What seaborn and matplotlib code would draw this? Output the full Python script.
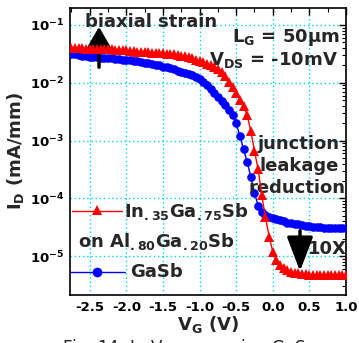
import numpy as np
import pandas as pd
import matplotlib
matplotlib.use("Agg")
import matplotlib.pyplot as plt
import seaborn as sns
from matplotlib.lines import Line2D
from matplotlib.ticker import FixedLocator, FixedFormatter, LogLocator, NullFormatter, MultipleLocator

# ---------------- data ----------------
vg = [-2.75, -2.70, -2.65, -2.60, -2.55, -2.50, -2.45, -2.40, -2.35, -2.30,
      -2.25, -2.20, -2.15, -2.10, -2.05, -2.00, -1.95, -1.90, -1.85, -1.80,
      -1.75, -1.70, -1.65, -1.60, -1.55, -1.50, -1.45, -1.40, -1.35, -1.30,
      -1.25, -1.20, -1.15, -1.10, -1.05, -1.00, -0.95, -0.90, -0.85, -0.80,
      -0.75, -0.70, -0.65, -0.60, -0.55, -0.50, -0.45, -0.40, -0.35, -0.30,
      -0.25, -0.20, -0.15, -0.10, -0.05, 0.00, 0.05, 0.10, 0.15, 0.20,
      0.25, 0.30, 0.35, 0.40, 0.45, 0.50, 0.55, 0.60, 0.65, 0.70,
      0.75, 0.80, 0.85, 0.90, 0.95, 1.00]

# log10 of I_D (mA/mm)
ingasb_log_id = [-1.40, -1.40, -1.40, -1.40, -1.41, -1.41, -1.41, -1.41, -1.41, -1.42,
                 -1.42, -1.42, -1.43, -1.43, -1.44, -1.44, -1.45, -1.45, -1.46, -1.46,
                 -1.47, -1.47, -1.48, -1.48, -1.49, -1.49, -1.50, -1.50, -1.51, -1.52,
                 -1.53, -1.54, -1.56, -1.58, -1.60, -1.62, -1.64, -1.67, -1.70, -1.73,
                 -1.77, -1.82, -1.89, -1.98, -2.07, -2.17, -2.29, -2.41, -2.56, -2.84,
                 -3.18, -3.50, -3.95, -4.33, -4.66, -4.92, -5.07, -5.15, -5.20, -5.24,
                 -5.27, -5.29, -5.30, -5.31, -5.31, -5.32, -5.32, -5.32, -5.32, -5.32,
                 -5.33, -5.33, -5.33, -5.33, -5.33, -5.33]

gasb_log_id = [-1.50, -1.51, -1.52, -1.53, -1.54, -1.55, -1.55, -1.56, -1.57, -1.57,
               -1.58, -1.58, -1.59, -1.59, -1.60, -1.60, -1.61, -1.62, -1.63, -1.64,
               -1.65, -1.66, -1.67, -1.69, -1.70, -1.72, -1.73, -1.75, -1.77, -1.79,
               -1.81, -1.83, -1.85, -1.87, -1.90, -1.93, -1.98, -2.04, -2.10, -2.17,
               -2.24, -2.31, -2.39, -2.47, -2.56, -2.70, -2.92, -3.15, -3.37, -3.63,
               -3.90, -4.13, -4.24, -4.29, -4.32, -4.34, -4.36, -4.38, -4.40, -4.42,
               -4.43, -4.44, -4.45, -4.46, -4.47, -4.48, -4.49, -4.50, -4.50, -4.51,
               -4.51, -4.52, -4.52, -4.52, -4.52, -4.52]

xtick_vals = [-2.5, -2.0, -1.5, -1.0, -0.5, 0.0, 0.5, 1.0]
xtick_labels = ["-2.5", "-2.0", "-1.5", "-1.0", "-0.5", "0.0", "0.5", "1.0"]
ytick_vals = [1e-5, 1e-4, 1e-3, 1e-2, 1e-1]
ytick_labels = [r"$10^{-5}$", r"$10^{-4}$", r"$10^{-3}$", r"$10^{-2}$", r"$10^{-1}$"]

df = pd.DataFrame({
    "VG": vg * 2,
    "ID": list(10.0 ** np.array(ingasb_log_id)) + list(10.0 ** np.array(gasb_log_id)),
    "device": ["InGaSb"] * len(vg) + ["GaSb"] * len(vg),
})

# ---------------- style ----------------
sns.set_theme(style="white")
plt.rcParams["font.family"] = ["DejaVu Sans"]
plt.rcParams["font.weight"] = "bold"
plt.rcParams["mathtext.fontset"] = "custom"
plt.rcParams["mathtext.rm"] = "DejaVu Sans:bold"
plt.rcParams["mathtext.it"] = "DejaVu Sans:bold"
plt.rcParams["mathtext.bf"] = "DejaVu Sans:bold"
plt.rcParams["mathtext.sf"] = "DejaVu Sans:bold"
plt.rcParams["mathtext.default"] = "rm"
plt.rcParams["axes.unicode_minus"] = False

W, H = 359, 343
fig = plt.figure(figsize=(W / 100, H / 100), dpi=100)
ax = fig.add_axes([70 / W, 48 / H, 276 / W, 287 / H])

palette = {"InGaSb": "#ff0000", "GaSb": "#0000ff"}
sub_red = df[df.device == "InGaSb"]
sub_blue = df[df.device == "GaSb"]
sns.lineplot(data=sub_blue, x="VG", y="ID", color=palette["GaSb"], marker="o",
             markersize=6.2, markeredgewidth=0, linewidth=1.0, ax=ax, zorder=3)
sns.lineplot(data=sub_red, x="VG", y="ID", color=palette["InGaSb"], marker="^",
             markersize=6.8, markeredgewidth=0, linewidth=1.0, ax=ax, zorder=4)

ax.set_yscale("log")
ax.set_xlim(-2.77, 1.0)
ax.set_ylim(10 ** -5.672, 10 ** -0.707)

ax.xaxis.set_major_locator(FixedLocator(xtick_vals))
ax.xaxis.set_major_formatter(FixedFormatter(xtick_labels))
ax.xaxis.set_minor_locator(MultipleLocator(0.25))
ax.yaxis.set_major_locator(FixedLocator(ytick_vals))
ax.yaxis.set_major_formatter(FixedFormatter(ytick_labels))
ax.yaxis.set_minor_locator(LogLocator(base=10, subs=np.arange(2, 10), numticks=20))
ax.yaxis.set_minor_formatter(NullFormatter())

ax.tick_params(which="both", direction="in", top=True, right=True, colors="black")
ax.tick_params(which="major", length=5, width=1.0, labelsize=9.5, pad=4)
ax.tick_params(which="minor", length=3, width=0.8)
for lab in ax.get_xticklabels() + ax.get_yticklabels():
    lab.set_fontweight("bold")

for s in ax.spines.values():
    s.set_color("black")
    s.set_linewidth(1.2)

ax.grid(True, which="major", color="#00d8f0", linestyle=(0, (1, 2)), linewidth=1.0)
ax.set_axisbelow(True)

ax.set_xlabel(r"V$_G$ (V)", fontsize=13, fontweight="bold", labelpad=0)
ax.set_ylabel(r"I$_D$ (mA/mm)", fontsize=13, fontweight="bold", labelpad=3)


# ---------------- annotations ----------------
def px(x, y):
    """figure pixel (from top-left) -> axes fraction"""
    return ((x - 70) / 276, (295 - y) / 287)


ax.text(*px(85, 22), "biaxial strain", transform=ax.transAxes, fontsize=13,
        fontweight="bold", va="center", ha="left")
ax.text(*px(340, 38), "L$_G$ = 50μm", transform=ax.transAxes, fontsize=13,
        fontweight="bold", va="center", ha="right")
ax.text(*px(338, 60), "V$_{DS}$ = -10mV", transform=ax.transAxes, fontsize=13,
        fontweight="bold", va="center", ha="right")
ax.text(*px(299, 144), "junction", transform=ax.transAxes,
        fontsize=13, fontweight="bold", va="center", ha="center")
ax.text(*px(299, 166), "leakage", transform=ax.transAxes,
        fontsize=13, fontweight="bold", va="center", ha="center")
ax.text(*px(297, 188), "reduction", transform=ax.transAxes,
        fontsize=13, fontweight="bold", va="center", ha="center")
ax.text(*px(327, 249), "10X", transform=ax.transAxes, fontsize=13,
        fontweight="bold", va="center", ha="center")

ax.annotate("", xy=px(99, 24), xytext=px(99, 70), xycoords="axes fraction",
            textcoords="axes fraction",
            arrowprops=dict(arrowstyle="-|>,head_length=1.3,head_width=0.75",
                            mutation_scale=10, color="black", lw=2.5))
ax.annotate("", xy=px(300, 274), xytext=px(300, 228), xycoords="axes fraction",
            textcoords="axes fraction",
            arrowprops=dict(arrowstyle="-|>,head_length=2.1,head_width=0.8",
                            mutation_scale=10, color="black", lw=2.5))

# ---------------- legend (manual) ----------------
ax.add_line(Line2D([(72 - 70) / 276, (122 - 70) / 276], [px(0, 211)[1]] * 2,
                   transform=ax.transAxes, color="#ff0000", lw=1.0))
ax.add_line(Line2D([(97 - 70) / 276], [px(0, 210)[1]], transform=ax.transAxes,
                   color="#ff0000", marker="^", markersize=7, markeredgewidth=0, lw=0))
ax.text(*px(124, 211), "In$_{.35}$Ga$_{.75}$Sb", transform=ax.transAxes, fontsize=13,
        fontweight="bold", va="center", ha="left")
ax.text(*px(78, 241), "on Al$_{.80}$Ga$_{.20}$Sb", transform=ax.transAxes, fontsize=13,
        fontweight="bold", va="center", ha="left")
ax.add_line(Line2D([(70 - 70) / 276, (125 - 70) / 276], [px(0, 272)[1]] * 2,
                   transform=ax.transAxes, color="#0000ff", lw=1.0))
ax.add_line(Line2D([(97 - 70) / 276], [px(0, 272)[1]], transform=ax.transAxes,
                   color="#0000ff", marker="o", markersize=7, markeredgewidth=0, lw=0))
ax.text(*px(130, 272), "GaSb", transform=ax.transAxes, fontsize=13,
        fontweight="bold", va="center", ha="left")

# caption (cut off at bottom, as in the reference)
fig.text(62 / W, 1 - 337 / H, "Fig. 14: I$_D$-V$_G$ comparing GaS", fontsize=12,
         fontweight="normal", va="top", ha="left", color="#222222",
         math_fontfamily="dejavusans")

fig.savefig("out.png", dpi=100)
